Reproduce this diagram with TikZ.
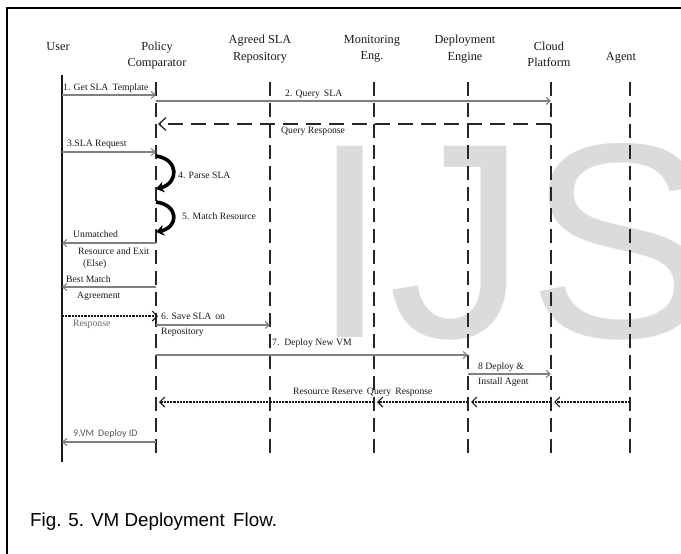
\documentclass[tikz,border=0pt]{standalone}
\usepackage{fontspec}
\setmainfont{Liberation Serif}
\newfontfamily\capfont{Liberation Sans}
\newfontfamily\calfont{Carlito}
\usetikzlibrary{arrows.meta}
\begin{document}
\begin{tikzpicture}[x=1pt,y=-1pt,
  hdr/.style={font=\fontsize{12.3}{16.5}\selectfont, align=center, text=black!90, inner sep=0},
  lbl/.style={font=\fontsize{9.7}{12}\selectfont, anchor=west, inner sep=0, text=black!90, text height=6.6pt, text depth=2pt},
  life/.style={line width=2pt, draw=black!85, dash pattern=on 14pt off 7pt},
  msg/.style={draw=black!50, line width=1.1pt, -{Straight Barb[length=4pt,width=7pt]}},
  qresp/.style={draw=black!85, line width=2pt, dash pattern=on 15pt off 8pt, -{Straight Barb[length=7pt,width=13pt,line width=1.3pt]}},
  dotted line/.style={draw=black!90, line width=1.2pt, dash pattern=on 2.2pt off 1pt, -{Straight Barb[length=5pt,width=10pt,line width=1.2pt]}},
  selfarrow/.style={draw=black, line width=3.6pt, -{Stealth[length=8pt,width=11pt]}}
]
\useasboundingbox (0,0) rectangle (681,554);
% watermark
\node[anchor=base west, inner sep=0, font=\capfont\fontsize{278}{278}\selectfont, text=black!14] (wm) at (311,337) {IJS};
% border
\draw[line width=1.5pt] (7,554) -- (7,8) -- (681,8);

% headers
\node[hdr] (hUser) at (58,47) {User};
\node[hdr] (hPol) at (157,55.5) {Policy\\Comparator};
\node[hdr] (hRep) at (260,49) {Agreed SLA\\Repository};
\node[hdr] (hMon) at (372,49) {Monitoring\\Eng.};
\node[hdr] (hDep) at (465,49) {Deployment\\Engine};
\node[hdr] (hCld) at (549,54.5) {Cloud\\Platform};
\node[hdr] (hAg) at (621,58) {Agent};

% lifelines
\coordinate (uT) at (62,75);   \coordinate (uB) at (62,462);
\coordinate (pT) at (156,82);  \coordinate (pB) at (156,460);
\coordinate (rT) at (270,82);  \coordinate (rB) at (270,460);
\coordinate (mT) at (374,82);  \coordinate (mB) at (374,460);
\coordinate (dT) at (468,82);  \coordinate (dB) at (468,460);
\coordinate (cT) at (551,82);  \coordinate (cB) at (551,460);
\coordinate (aT) at (630,82);  \coordinate (aB) at (630,460);
\draw[line width=2pt, black!90] (uT) -- (uB);
\foreach \t/\b in {pT/pB, rT/rB, mT/mB, dT/dB, cT/cB, aT/aB}
  \draw[life] (\t) -- (\b);

% messages
\draw[msg] (uT |- 0,95) -- (pT |- 0,95);
\node[lbl] (l1) at (63,88) {1. Get SLA\, Template};
\draw[msg] (pT |- 0,101) -- (cT |- 0,101);
\node[lbl] (l2) at (285,94) {2. Query\, SLA};
\draw[qresp] (cT |- 0,124) -- ([xshift=2pt]pT |- 0,124);
\node[lbl] (l2r) at (281,131) {Query Response};
\draw[msg] (uT |- 0,152) -- (pT |- 0,152);
\node[lbl] (l3) at (67,144) {3.SLA Request};

\draw[selfarrow] (pT |- 0,156) .. controls (179,159) and (179,183) .. (pT |- 0,189);
\node[lbl] (l4) at (178,176) {4. Parse SLA};
\draw[selfarrow] (pT |- 0,202) .. controls (179,205) and (179,227) .. (pT |- 0,232);
\node[lbl] (l5) at (182,217) {5. Match Resource};

\draw[msg] (pT |- 0,243) -- (uT |- 0,243);
\node[lbl] (l5a) at (73,235) {Unmatched};
\node[lbl] (l5b) at (78,252) {Resource and Exit};
\node[lbl] (l5c) at (83,264) {(Else)};
\draw[msg] (pT |- 0,287) -- (uT |- 0,287);
\node[lbl] (l5d) at (66,280) {Best Match};
\node[lbl] (l5e) at (77,296) {Agreement};

\draw[dotted line, line width=1.5pt] (uT |- 0,316) -- ([xshift=2pt]pT |- 0,316);
\node[lbl, text=black!60] (lr) at (73,324) {Response};
\draw[msg] (pT |- 0,325) -- (rT |- 0,325);
\node[lbl] (l6a) at (161,317) {6. Save SLA\, on};
\node[lbl] (l6b) at (161,332) {Repository};
\draw[msg] (pT |- 0,355) -- (dT |- 0,355);
\node[lbl] (l7) at (272,343) {7.\, Deploy New VM};
\draw[msg] (dT |- 0,374) -- (cT |- 0,374);
\node[lbl] (l8a) at (478,367) {8 Deploy \&};
\node[lbl] (l8b) at (478,382) {Install Agent};

\draw[dotted line] (aT |- 0,402) -- ([xshift=3pt]cT |- 0,402);
\draw[dotted line] (cT |- 0,402) -- ([xshift=3pt]dT |- 0,402);
\draw[dotted line] (dT |- 0,402) -- ([xshift=3pt]mT |- 0,402);
\draw[dotted line] (mT |- 0,402) -- ([xshift=3pt]pT |- 0,402);
\node[lbl] (lrr) at (293,392) {Resource Reserve\, Query\, Response};

\draw[msg] (pT |- 0,442) -- (uT |- 0,442);
\node[lbl, font=\calfont\fontsize{10}{12}\selectfont, text=black!65] (l9) at (73,434) {9.VM\, Deploy ID};

% caption
\node[anchor=base west, inner sep=0, font=\capfont\fontsize{18.8}{22}\selectfont] (cap) at (30,526) {Fig. 5. VM Deployment\, Flow.};
\end{tikzpicture}
\end{document}
